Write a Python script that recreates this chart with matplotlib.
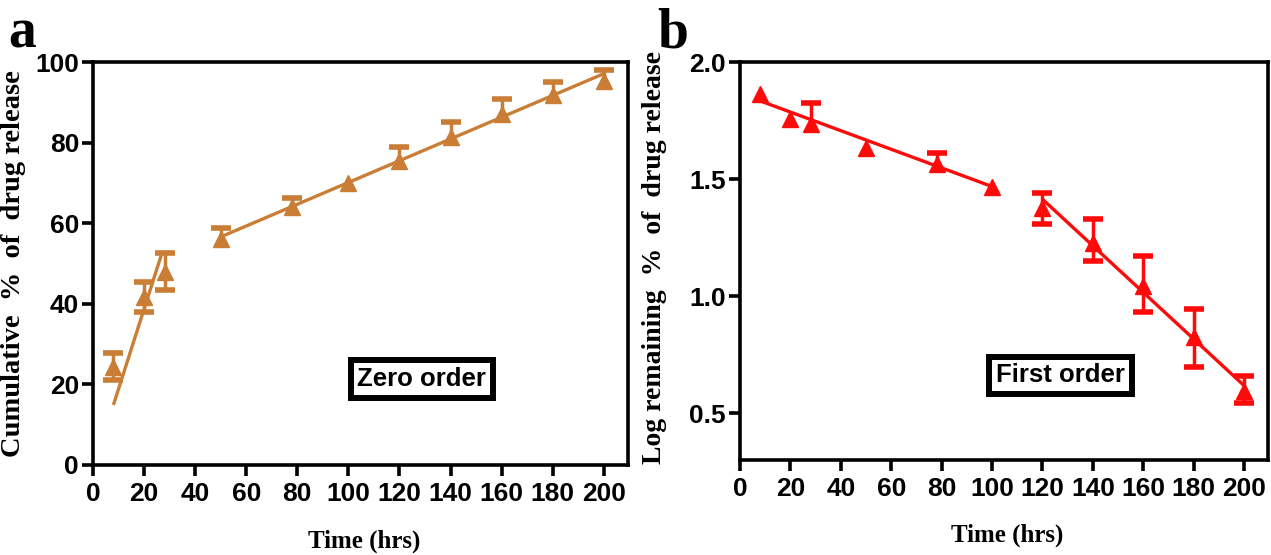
import numpy as np
import matplotlib
matplotlib.use("Agg")
from matplotlib import pyplot as plt

# sampling times (hrs)
time = [8, 20, 28, 50, 78, 100, 120, 140, 160, 180, 200]

# zero order: cumulative % released, error bars above / below
zero_y = [24.4, 41.6, 48.0, 56.2, 64.0, 69.9, 75.5, 81.4, 87.2, 91.9, 95.4]
zero_hi = [3.3, 3.9, 4.7, 2.7, 2.2, 0, 3.5, 3.6, 3.7, 3.2, 2.7]
zero_lo = [3.3, 3.6, 4.6, 0, 0, 0, 0, 0, 0, 0, 0]
# fitted segments
zero_fit1_t = [8, 27]
zero_fit1_y = [14.9, 52.6]
zero_fit2_t = [50, 200]
zero_fit2_y = [56.6, 97.1]

# first order: log of % remaining
first_y = [1.865, 1.755, 1.735, 1.633, 1.565, 1.464, 1.376, 1.229, 1.042, 0.826, 0.596]
first_hi = [0, 0, 0.09, 0, 0.045, 0, 0.064, 0.10, 0.13, 0.12, 0.063]
first_lo = [0, 0, 0, 0, 0, 0, 0.066, 0.08, 0.11, 0.13, 0.054]
first_fit1_t = [7.2, 100.3]
first_fit1_y = [1.837, 1.467]
first_fit2_t = [120, 200]
first_fit2_y = [1.414, 0.618]

x_ticks = [0, 20, 40, 60, 80, 100, 120, 140, 160, 180, 200]

tick_family = ["Liberation Sans Narrow", "Liberation Sans"]
label_font = dict(family="Liberation Serif", weight="bold")
box_font = dict(family="Liberation Sans", weight="bold", size=18.5)
box_style = dict(boxstyle="square,pad=0.27", fc="white", ec="black", lw=4.3)


def draw_panel(ax, y, lo, hi, fits, color):
    t = np.array(time)
    y = np.array(y)
    lo = np.array(lo)
    hi = np.array(hi)
    for ft, fy in fits:
        ax.plot(ft, fy, color=color, lw=2.4, zorder=2, solid_capstyle="butt")
    # error bar stems
    ax.errorbar(t, y, yerr=[lo, hi], fmt="none", ecolor=color, elinewidth=2.5,
                capsize=0, zorder=3)
    # caps only where a bar is drawn
    up = hi > 0
    dn = lo > 0
    ax.plot(t[up], (y + hi)[up], ls="none", marker="_", ms=15, mew=4, color=color, zorder=3)
    ax.plot(t[dn], (y - lo)[dn], ls="none", marker="_", ms=15, mew=4, color=color, zorder=3)
    ax.plot(t, y, ls="none", marker="^", ms=11, color=color, mec=color, zorder=4)

    for s in ax.spines.values():
        s.set_linewidth(2.6)
    ax.tick_params(direction="out", length=8, width=2.6, pad=4)
    ax.tick_params(axis="y", pad=2)
    ax.set_xticks(x_ticks)
    ax.set_xlim(0, 209.5)
    for lab in ax.get_xticklabels() + ax.get_yticklabels():
        lab.set_fontfamily(tick_family)
        lab.set_fontweight("bold")
        lab.set_fontsize(19)


fig = plt.figure(figsize=(12.71, 5.55), dpi=100)
ax1 = fig.add_axes([93 / 1271, 1 - 465 / 555, 535 / 1271, 403 / 555])
ax2 = fig.add_axes([740 / 1271, 1 - 460 / 555, 528 / 1271, 398 / 555])

brown = "#C97D35"
red = "#FF0A0A"

ax1.set_ylim(0, 100)
ax1.set_yticks([0, 20, 40, 60, 80, 100])
draw_panel(ax1, zero_y, zero_lo, zero_hi,
           [(zero_fit1_t, zero_fit1_y), (zero_fit2_t, zero_fit2_y)], brown)
ax1.set_ylabel("Cumulative  %  of  drug release", size=20.5, **label_font)
ax1.yaxis.set_label_coords(-0.125, 0.5)
ax1.set_xlabel("Time (hrs)", size=18, **label_font)
ax1.xaxis.set_label_coords(0.507, -0.16)
ax1.text(128.8, 21.3, "Zero order", ha="center", va="center", bbox=box_style, **box_font)

ax2.set_ylim(0.3, 2.0)
ax2.set_yticks([0.5, 1.0, 1.5, 2.0])
ax2.set_yticklabels(["0.5", "1.0", "1.5", "2.0"])
draw_panel(ax2, first_y, first_lo, first_hi,
           [(first_fit1_t, first_fit1_y), (first_fit2_t, first_fit2_y)], red)
ax2.set_ylabel("Log remaining  %  of  drug release", size=20, **label_font)
ax2.yaxis.set_label_coords(-0.138, 0.51)
ax2.set_xlabel("Time (hrs)", size=18, **label_font)
ax2.xaxis.set_label_coords(0.506, -0.16)
ax2.text(127.1, 0.661, "First order", ha="center", va="center", bbox=box_style, **box_font)

fig.text(8 / 1271, 1 - 47 / 555, "a", family="Liberation Serif", weight="bold", size=40)
fig.text(657 / 1271, 1 - 47 / 555, "b", family="Liberation Serif", weight="bold", size=40)

fig.savefig("out.png", dpi=100)
